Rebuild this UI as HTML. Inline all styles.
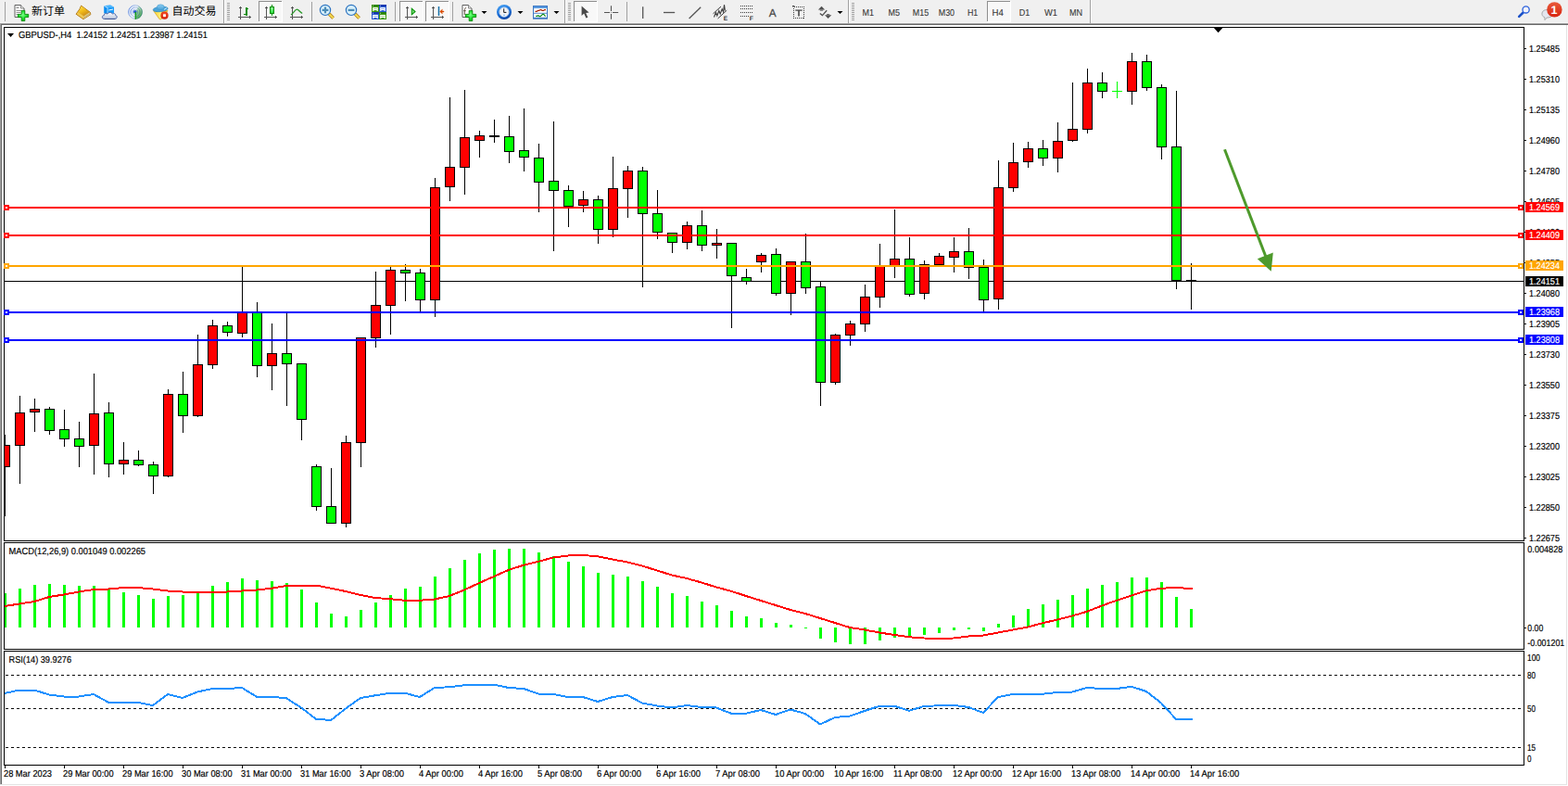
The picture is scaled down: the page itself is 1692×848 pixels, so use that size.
<!DOCTYPE html>
<html><head><meta charset="utf-8"><title>GBPUSD-,H4</title>
<style>html,body{margin:0;padding:0;background:#fff;overflow:hidden}svg{display:block}</style>
</head><body>
<svg width="1692" height="848" viewBox="0 0 1692 848" font-family="Liberation Sans, sans-serif" font-size="10" text-rendering="geometricPrecision">
<rect x="0" y="0" width="1692" height="848" fill="#ffffff"/>
<g shape-rendering="crispEdges">
<rect x="0" y="0" width="1692" height="25" fill="#f0f0f0"/>
<rect x="0" y="24" width="1692" height="1" fill="#f5f5f5"/>
<rect x="0" y="25" width="1692" height="1" fill="#a0a0a0"/>
<rect x="0" y="26" width="1692" height="1" fill="#696969"/>
<rect x="0" y="26" width="1" height="820" fill="#a0a0a0"/>
<rect x="1" y="26" width="1" height="820" fill="#696969"/>
<rect x="1690" y="27" width="1" height="820" fill="#e3e3e3"/>
<rect x="0" y="846" width="1691" height="1" fill="#e3e3e3"/>
<rect x="1691" y="27" width="1" height="821" fill="#ffffff"/>
<rect x="0" y="847" width="1692" height="1" fill="#ffffff"/>
</g>
<g shape-rendering="crispEdges">
<rect x="5" y="2" width="1" height="21" fill="#a0a0a0"/>
<rect x="241" y="0" width="1" height="25" fill="#a0a0a0"/><rect x="242" y="0" width="1" height="25" fill="#ffffff"/>
<rect x="245" y="3" width="3" height="1" fill="#a0a0a0"/>
<rect x="245" y="5" width="3" height="1" fill="#a0a0a0"/>
<rect x="245" y="7" width="3" height="1" fill="#a0a0a0"/>
<rect x="245" y="9" width="3" height="1" fill="#a0a0a0"/>
<rect x="245" y="11" width="3" height="1" fill="#a0a0a0"/>
<rect x="245" y="13" width="3" height="1" fill="#a0a0a0"/>
<rect x="245" y="15" width="3" height="1" fill="#a0a0a0"/>
<rect x="245" y="17" width="3" height="1" fill="#a0a0a0"/>
<rect x="245" y="19" width="3" height="1" fill="#a0a0a0"/>
<rect x="245" y="21" width="3" height="1" fill="#a0a0a0"/>
<rect x="279" y="1" width="26" height="23" fill="#f8f8f8"/>
<rect x="279" y="1" width="25" height="1" fill="#8e8e8e"/><rect x="279" y="1" width="1" height="22" fill="#8e8e8e"/>
<rect x="279" y="23" width="26" height="1" fill="#ffffff"/><rect x="304" y="1" width="1" height="23" fill="#ffffff"/>
<rect x="336" y="2" width="1" height="21" fill="#a0a0a0"/>
<rect x="426" y="2" width="1" height="21" fill="#a0a0a0"/>
<rect x="431" y="1" width="26" height="23" fill="#f8f8f8"/>
<rect x="431" y="1" width="25" height="1" fill="#8e8e8e"/><rect x="431" y="1" width="1" height="22" fill="#8e8e8e"/>
<rect x="431" y="23" width="26" height="1" fill="#ffffff"/><rect x="456" y="1" width="1" height="23" fill="#ffffff"/>
<rect x="459" y="1" width="26" height="23" fill="#f8f8f8"/>
<rect x="459" y="1" width="25" height="1" fill="#8e8e8e"/><rect x="459" y="1" width="1" height="22" fill="#8e8e8e"/>
<rect x="459" y="23" width="26" height="1" fill="#ffffff"/><rect x="484" y="1" width="1" height="23" fill="#ffffff"/>
<rect x="488" y="2" width="1" height="21" fill="#a0a0a0"/>
<rect x="609" y="0" width="1" height="25" fill="#a0a0a0"/><rect x="610" y="0" width="1" height="25" fill="#ffffff"/>
<rect x="613" y="3" width="3" height="1" fill="#a0a0a0"/>
<rect x="613" y="5" width="3" height="1" fill="#a0a0a0"/>
<rect x="613" y="7" width="3" height="1" fill="#a0a0a0"/>
<rect x="613" y="9" width="3" height="1" fill="#a0a0a0"/>
<rect x="613" y="11" width="3" height="1" fill="#a0a0a0"/>
<rect x="613" y="13" width="3" height="1" fill="#a0a0a0"/>
<rect x="613" y="15" width="3" height="1" fill="#a0a0a0"/>
<rect x="613" y="17" width="3" height="1" fill="#a0a0a0"/>
<rect x="613" y="19" width="3" height="1" fill="#a0a0a0"/>
<rect x="613" y="21" width="3" height="1" fill="#a0a0a0"/>
<rect x="619" y="1" width="26" height="23" fill="#f8f8f8"/>
<rect x="619" y="1" width="25" height="1" fill="#8e8e8e"/><rect x="619" y="1" width="1" height="22" fill="#8e8e8e"/>
<rect x="619" y="23" width="26" height="1" fill="#ffffff"/><rect x="644" y="1" width="1" height="23" fill="#ffffff"/>
<rect x="676" y="2" width="1" height="21" fill="#a0a0a0"/>
<rect x="915" y="0" width="1" height="25" fill="#a0a0a0"/><rect x="916" y="0" width="1" height="25" fill="#ffffff"/>
<rect x="919" y="3" width="3" height="1" fill="#a0a0a0"/>
<rect x="919" y="5" width="3" height="1" fill="#a0a0a0"/>
<rect x="919" y="7" width="3" height="1" fill="#a0a0a0"/>
<rect x="919" y="9" width="3" height="1" fill="#a0a0a0"/>
<rect x="919" y="11" width="3" height="1" fill="#a0a0a0"/>
<rect x="919" y="13" width="3" height="1" fill="#a0a0a0"/>
<rect x="919" y="15" width="3" height="1" fill="#a0a0a0"/>
<rect x="919" y="17" width="3" height="1" fill="#a0a0a0"/>
<rect x="919" y="19" width="3" height="1" fill="#a0a0a0"/>
<rect x="919" y="21" width="3" height="1" fill="#a0a0a0"/>
<rect x="1065" y="1" width="26" height="23" fill="#f8f8f8"/>
<rect x="1065" y="1" width="25" height="1" fill="#8e8e8e"/><rect x="1065" y="1" width="1" height="22" fill="#8e8e8e"/>
<rect x="1065" y="23" width="26" height="1" fill="#ffffff"/><rect x="1090" y="1" width="1" height="23" fill="#ffffff"/>
<rect x="1176" y="0" width="1" height="25" fill="#a0a0a0"/><rect x="1177" y="0" width="1" height="25" fill="#ffffff"/>
</g>
<defs><radialGradient id="gplus" cx="0.45" cy="0.4" r="0.7"><stop offset="0" stop-color="#7dff8a"/><stop offset="0.55" stop-color="#19e02a"/><stop offset="1" stop-color="#0aa010"/></radialGradient><linearGradient id="ggold" x1="0" y1="0" x2="0.6" y2="1"><stop offset="0" stop-color="#ffe45a"/><stop offset="0.5" stop-color="#f2bd1a"/><stop offset="1" stop-color="#c8871a"/></linearGradient><linearGradient id="gcloud" x1="0" y1="0" x2="0" y2="1"><stop offset="0" stop-color="#ffffff"/><stop offset="1" stop-color="#b8c4dc"/></linearGradient><linearGradient id="ghat" x1="0" y1="0" x2="0" y2="1"><stop offset="0" stop-color="#8ccdf2"/><stop offset="1" stop-color="#4aa2d8"/></linearGradient><linearGradient id="gface" x1="0" y1="0" x2="1" y2="0"><stop offset="0" stop-color="#f5cc30"/><stop offset="0.5" stop-color="#fff27a"/><stop offset="1" stop-color="#f0c020"/></linearGradient><radialGradient id="gred" cx="0.5" cy="0.35" r="0.7"><stop offset="0" stop-color="#ff5a30"/><stop offset="1" stop-color="#c81400"/></radialGradient><linearGradient id="gbadge" x1="0" y1="0" x2="0" y2="1"><stop offset="0" stop-color="#e85a3a"/><stop offset="1" stop-color="#d82410"/></linearGradient><radialGradient id="gsig" cx="0.5" cy="0.5" r="0.5"><stop offset="0" stop-color="#ffffff"/><stop offset="1" stop-color="#e4ecf6"/></radialGradient><linearGradient id="ghandle" x1="0" y1="0" x2="1" y2="0"><stop offset="0" stop-color="#c89018"/><stop offset="0.5" stop-color="#ffe870"/><stop offset="1" stop-color="#b07808"/></linearGradient><radialGradient id="gclock" cx="0.5" cy="0.5" r="0.5"><stop offset="0.6" stop-color="#1e82e6"/><stop offset="0.85" stop-color="#2a90f0"/><stop offset="1" stop-color="#0e50a8"/></radialGradient><linearGradient id="gcandle" x1="0" y1="0" x2="0" y2="1"><stop offset="0" stop-color="#90ff98"/><stop offset="1" stop-color="#28dc40"/></linearGradient><linearGradient id="gring" x1="0" y1="0" x2="1" y2="0.3"><stop offset="0" stop-color="#3c6cdc" stop-opacity="0.95"/><stop offset="0.5" stop-color="#7aa0e0" stop-opacity="0.5"/><stop offset="1" stop-color="#3a7a8a" stop-opacity="0.75"/></linearGradient><linearGradient id="gsec" x1="0.2" y1="0" x2="0.6" y2="1"><stop offset="0" stop-color="#c8e4c8" stop-opacity="0.7"/><stop offset="1" stop-color="#2ca02c" stop-opacity="0.95"/></linearGradient><linearGradient id="gclk2" x1="0.2" y1="0" x2="0.6" y2="1"><stop offset="0" stop-color="#44a0f4"/><stop offset="0.55" stop-color="#1a6cd4"/><stop offset="1" stop-color="#0a44a4"/></linearGradient></defs>
<g transform="translate(14.5,5)"><path d="M1.5,0.5 H8 L11.5,4 V13.5 H1.5 Z" fill="#fff" stroke="#606060" stroke-width="1"/><path d="M8,0.5 V4 H11.5" fill="#e8e8e8" stroke="#707070" stroke-width="0.8"/><rect x="3" y="2.5" width="3" height="1.4" fill="#909090"/><rect x="3" y="6" width="6" height="1" fill="#909090"/><rect x="3" y="8" width="5" height="1" fill="#909090"/><rect x="3" y="10" width="3" height="1" fill="#909090"/><path d="M8.7,6.4 H12.3 V10.4 H16.2 V13.6 H12.3 V17.6 H8.7 V13.6 H4.9 V10.4 H8.7 Z" fill="url(#gplus)" stroke="#0a8a0a" stroke-width="0.9"/></g>
<text x="33.9" y="16.2" font-size="12" fill="#000" font-family="'Liberation Sans', 'Noto Sans CJK SC', sans-serif">新订单</text>
<path d="M87.6,6.1 L97.3,13.3 L97.9,15.6 L89.9,20.7 L82.1,15.2 L85.9,9.9 Z" fill="#d8a428" stroke="#b07818" stroke-width="1" stroke-linejoin="round"/><path d="M87.8,6.6 L96.8,13.3 L90.4,17.6 L84.2,13 L86.2,10 Z" fill="url(#ggold)"/><path d="M82.6,15.1 L84.2,13 L90.4,17.6 L89.9,20.2 Z" fill="#f0c850"/><path d="M90.4,17.6 L96.8,13.3 L97.5,15.5 L90,20.2 Z" fill="#e8dca0"/><path d="M90.3,18.6 L97.1,14.2 M90.1,19.5 L97.4,14.9" stroke="#b89040" stroke-width="0.5" fill="none"/>
<path d="M112.2,6.2 L116,8.2 V14.5 H112.2 Z" fill="#0a8cf0"/><path d="M112.2,6.2 L119,5.2 L123,7.4 L116,8.2 Z" fill="#48b4ff"/><path d="M116,8.2 L123,7.4 V14.5 H116 Z" fill="#1e9cf8"/><path d="M112.4,6.4 L116,8.4 V14" fill="none" stroke="#e0f4ff" stroke-width="0.7"/><path d="M117.4,10.4 L122,9.6 V10.6 L117.4,11.4 Z" fill="#eaf8ff"/><path d="M112.6,20.4 C109.6,20.4 109.7,16.7 112.3,16.5 C112.2,14.5 114.8,13.9 116,15.1 C117,12.9 120.6,12.9 121.4,15.1 C123,14.1 125,14.7 124.8,16.7 C127,17.1 126.6,20.4 124,20.4 Z" fill="url(#gcloud)" stroke="#405aa0" stroke-width="0.9"/><path d="M112.6,20.5 H124" stroke="#3a508c" stroke-width="0.8"/>
<g fill="none"><circle cx="146" cy="13" r="7.6" fill="url(#gsig)"/><path d="M146,13 L149.8,6.4 A7.6,7.6 0 0 1 146,20.6 Z" fill="url(#gsec)"/><circle cx="146" cy="13" r="7.3" stroke="url(#gring)" stroke-width="1"/><circle cx="146" cy="13" r="5" stroke="url(#gring)" stroke-width="1"/><circle cx="146" cy="13" r="2.8" stroke="url(#gring)" stroke-width="0.8"/><circle cx="145.8" cy="12.8" r="1.8" fill="#2858d0"/><rect x="145.6" y="13" width="1.4" height="7.8" fill="#18a018"/></g>
<path d="M165.6,11.6 H181 L174,20.8 H172.2 Z" fill="url(#gface)" stroke="#d8a010" stroke-width="0.7"/><ellipse cx="173.2" cy="9.9" rx="8" ry="2.7" transform="rotate(-6 173.2 9.9)" fill="#4aa4da" stroke="#2a86c0" stroke-width="0.7"/><ellipse cx="173.3" cy="7.7" rx="3.9" ry="2.9" fill="url(#ghat)" stroke="#3a92c8" stroke-width="0.5"/><path d="M177,10.4 L180,8.6" stroke="#d8f0ff" stroke-width="0.9"/><circle cx="177.5" cy="16.7" r="4.1" fill="url(#gred)"/><rect x="176.1" y="15.3" width="2.8" height="2.8" fill="#fff"/>
<text x="185.5" y="16.2" font-size="12" fill="#000" font-family="'Liberation Sans', 'Noto Sans CJK SC', sans-serif">自动交易</text>
<g fill="#555555" shape-rendering="crispEdges"><rect x="259" y="7" width="1" height="14"/><rect x="258" y="8" width="3" height="1"/><rect x="257" y="18" width="14" height="1"/><rect x="269" y="17" width="1" height="3"/></g>
<g fill="#0a8c0a" shape-rendering="crispEdges"><rect x="265" y="8" width="1.6" height="9"/><rect x="265" y="9" width="3" height="1.4"/><rect x="263" y="15" width="3" height="1.4"/></g>
<g fill="#555555" shape-rendering="crispEdges"><rect x="287" y="7" width="1" height="14"/><rect x="286" y="8" width="3" height="1"/><rect x="285" y="18" width="14" height="1"/><rect x="297" y="17" width="1" height="3"/></g>
<g shape-rendering="crispEdges"><rect x="293" y="5" width="1" height="12" fill="#0a8c0a"/><rect x="291" y="7" width="5" height="8" fill="#0a8c0a"/><rect x="292" y="8" width="3" height="6" fill="url(#gcandle)"/></g>
<g fill="#555555" shape-rendering="crispEdges"><rect x="315" y="7" width="1" height="14"/><rect x="314" y="8" width="3" height="1"/><rect x="313" y="18" width="14" height="1"/><rect x="325" y="17" width="1" height="3"/></g>
<path d="M314,16 C316.5,14.5 318.5,10.2 320.4,10.2 C322.5,10.2 324,13.8 326.2,14.4" fill="none" stroke="#2a9a2a" stroke-width="1.3"/>
<g><line x1="355.2" y1="15.1" x2="359.6" y2="19.5" stroke="#a87410" stroke-width="3.6" stroke-linecap="butt"/><line x1="355.2" y1="15.1" x2="359.6" y2="19.5" stroke="#f2d850" stroke-width="2.2"/><circle cx="351" cy="10.9" r="5.6" fill="#d8f0fa" stroke="#2e74c0" stroke-width="1.2"/><rect x="347.6" y="9.8" width="6.8" height="2.2" fill="#4c8cb8"/><rect x="349.9" y="7.5" width="2.2" height="6.8" fill="#4c8cb8"/></g>
<g><line x1="383.2" y1="15.1" x2="387.6" y2="19.5" stroke="#a87410" stroke-width="3.6" stroke-linecap="butt"/><line x1="383.2" y1="15.1" x2="387.6" y2="19.5" stroke="#f2d850" stroke-width="2.2"/><circle cx="379" cy="10.9" r="5.6" fill="#d8f0fa" stroke="#2e74c0" stroke-width="1.2"/><rect x="375.6" y="9.8" width="6.8" height="2.2" fill="#4c8cb8"/></g>
<rect x="401" y="5" width="8" height="8" fill="#3f9a12"/><rect x="401" y="5" width="8" height="2" fill="#2c8408"/><rect x="402.2" y="8" width="5.6" height="4" fill="#fff"/><rect x="403.2" y="9" width="3.6" height="0.9" fill="#3f9a12" fill-opacity="0.55"/><rect x="403.4" y="11" width="3.2" height="1" fill="#3f9a12"/><rect x="402" y="5.8" width="1" height="0.8" fill="#fff" fill-opacity="0.8"/>
<rect x="409" y="5" width="8" height="8" fill="#2a5cd0"/><rect x="409" y="5" width="8" height="2" fill="#1838b0"/><rect x="410.2" y="8" width="5.6" height="4" fill="#fff"/><rect x="411.2" y="9" width="3.6" height="0.9" fill="#2a5cd0" fill-opacity="0.55"/><rect x="411.4" y="11" width="3.2" height="1" fill="#2a5cd0"/><rect x="410" y="5.8" width="1" height="0.8" fill="#fff" fill-opacity="0.8"/>
<rect x="401" y="13" width="8" height="8" fill="#2a5cd0"/><rect x="401" y="13" width="8" height="2" fill="#1838b0"/><rect x="402.2" y="16" width="5.6" height="4" fill="#fff"/><rect x="403.2" y="17" width="3.6" height="0.9" fill="#2a5cd0" fill-opacity="0.55"/><rect x="403.4" y="19" width="3.2" height="1" fill="#2a5cd0"/><rect x="402" y="13.8" width="1" height="0.8" fill="#fff" fill-opacity="0.8"/>
<rect x="409" y="13" width="8" height="8" fill="#3f9a12"/><rect x="409" y="13" width="8" height="2" fill="#2c8408"/><rect x="410.2" y="16" width="5.6" height="4" fill="#fff"/><rect x="411.2" y="17" width="3.6" height="0.9" fill="#3f9a12" fill-opacity="0.55"/><rect x="411.4" y="19" width="3.2" height="1" fill="#3f9a12"/><rect x="410" y="13.8" width="1" height="0.8" fill="#fff" fill-opacity="0.8"/>
<g fill="#555555" shape-rendering="crispEdges"><rect x="439" y="7" width="1" height="14"/><rect x="438" y="8" width="3" height="1"/><rect x="437" y="18" width="14" height="1"/><rect x="449" y="17" width="1" height="3"/></g>
<polygon points="444.3,9.3 444.3,15.7 448,12.5" fill="#7ee07e" stroke="#0a960a" stroke-width="1.1"/>
<g fill="#555555" shape-rendering="crispEdges"><rect x="467" y="7" width="1" height="14"/><rect x="466" y="8" width="3" height="1"/><rect x="465" y="18" width="14" height="1"/><rect x="477" y="17" width="1" height="3"/></g>
<line x1="473.5" y1="7" x2="473.5" y2="17" stroke="#1470a8" stroke-width="1.5"/><path d="M474.6,12.5 L477.4,10 L477,12 H479 V13 H477 L477.4,15 Z" fill="#d84a00" stroke="#d84a00" stroke-width="0.4"/>
<g transform="translate(497.5,5)"><path d="M1.5,0.5 H8 L11.5,4 V13.5 H1.5 Z" fill="#fff" stroke="#606060" stroke-width="1"/><path d="M8,0.5 V4 H11.5" fill="#e8e8e8" stroke="#707070" stroke-width="0.8"/><path d="M5.6,3.6 C4.2,3.2 3.8,5 3.8,7 V11 M2.8,6.6 H5.2" fill="none" stroke="#504030" stroke-width="0.9"/><path d="M8.7,6.4 H12.3 V10.4 H16.2 V13.6 H12.3 V17.6 H8.7 V13.6 H4.9 V10.4 H8.7 Z" fill="url(#gplus)" stroke="#0a8a0a" stroke-width="0.9"/></g>
<polygon points="519.5,12 525.5,12 522.5,15" fill="#000" shape-rendering="auto"/>
<circle cx="544" cy="13" r="8" fill="url(#gclk2)"/><circle cx="544" cy="13" r="5.3" fill="#f2f4f8" stroke="#9cc4f0" stroke-width="0.6"/><path d="M543.7,9.4 V13.4 H546.4" fill="none" stroke="#181818" stroke-width="1"/><rect x="543" y="15.8" width="2" height="0.8" fill="#5aa8f4"/><g fill="#8c8c8c"><rect x="543.6" y="8.3" width="0.7" height="0.7"/><rect x="548" y="12.7" width="0.7" height="0.7"/><rect x="539.3" y="12.7" width="0.7" height="0.7"/><rect x="540.6" y="9.8" width="0.6" height="0.6"/><rect x="546.8" y="9.8" width="0.6" height="0.6"/><rect x="540.6" y="15.8" width="0.6" height="0.6"/><rect x="546.8" y="15.8" width="0.6" height="0.6"/></g>
<polygon points="558.5,12 564.5,12 561.5,15" fill="#000" shape-rendering="auto"/>
<rect x="575.5" y="6.5" width="15" height="13.5" fill="#fff" stroke="#3c78c4" stroke-width="1"/><rect x="576" y="7" width="14" height="2" fill="#5a9ae0"/><rect x="576" y="13.8" width="14" height="0.9" fill="#3c78c4"/><rect x="575" y="18.8" width="16" height="1.6" fill="#3c78c4"/><path d="M577.5,12.4 H579 L580.5,11.4 H581.8 L583,10.6 H584 L585,11.4 H586.5 L587.6,10.6 H589" fill="none" stroke="#a82000" stroke-width="1.2"/><path d="M578.2,17.4 H579.6 L580.6,16.8 L582,17.6 H583.2 L585.6,15.4 H586.6 L588.6,17.6" fill="none" stroke="#0a8c1a" stroke-width="1.2"/>
<polygon points="597.5,12 603.5,12 600.5,15" fill="#000" shape-rendering="auto"/>
<path d="M627.6,6.4 V17 L630.2,14.6 L632.4,19.6 L634.4,18.7 L632.2,13.9 L635.6,13.6 Z" fill="#4a4a4a"/>
<g stroke="#555555" stroke-width="1.1"><path d="M659.5,6.3 V12 M659.5,15 V20.8 M652,13.5 H658 M661,13.5 H667.2"/></g><rect x="659" y="13" width="1" height="1" fill="#888"/>
<g stroke="#555555" stroke-width="1.3"><line x1="693.7" y1="7.2" x2="693.7" y2="20"/><line x1="716" y1="13.5" x2="728.2" y2="13.5"/><line x1="743.6" y1="20" x2="756.2" y2="7.8"/></g>
<g stroke="#3c3c3c" stroke-width="1" fill="none"><line x1="769.5" y1="14.8" x2="778" y2="7"/><line x1="774.6" y1="20" x2="784.2" y2="11.2"/><path d="M770.5,18.5 L772.5,13.5 L773.8,17 L775.8,11.5 L777.2,15 L779.2,9.8 L780.6,13 L781.5,5.2 L782.4,11.5" stroke-width="1.1"/></g>
<text x="780.8" y="21.8" font-size="6.5" font-weight="bold" fill="#303030" textLength="4.4" lengthAdjust="spacingAndGlyphs">E</text>
<g stroke="#404040" stroke-width="1.1" stroke-dasharray="1 1" shape-rendering="crispEdges"><line x1="799" y1="6.5" x2="812" y2="6.5"/><line x1="799" y1="9.5" x2="812" y2="9.5"/><line x1="799" y1="13.5" x2="812" y2="13.5"/><line x1="799" y1="17.5" x2="808" y2="17.5"/></g>
<text x="808.8" y="21.8" font-size="6.5" font-weight="bold" fill="#303030" textLength="4.2" lengthAdjust="spacingAndGlyphs">F</text>
<text x="829.8" y="17.8" font-size="11.8" fill="#484848" stroke="#484848" stroke-width="0.25">A</text>
<g stroke="#404040" stroke-width="1" stroke-dasharray="1 1" fill="none" shape-rendering="crispEdges"><rect x="856.5" y="7.5" width="11" height="12"/></g><rect x="855" y="6" width="2.4" height="1.4" fill="#404040"/>
<path d="M858.3,10.4 H865.7 V11.8 H862.8 V17.6 H861.2 V11.8 H858.3 Z" fill="#484848"/>
<g fill="#505050"><polygon points="886.5,6.8 890.2,10.6 882.9,10.6"/><rect x="884.8" y="10.6" width="3.4" height="1"/><polygon points="893.6,20 897.3,16.2 890,16.2"/><rect x="892" y="15.2" width="3.2" height="1"/><path d="M884.8,14.4 L887.4,16.6 L892.2,11.2" fill="none" stroke="#505050" stroke-width="1.3"/></g>
<polygon points="903.5,12 909.5,12 906.5,15" fill="#000" shape-rendering="auto"/>
<text x="930.6" y="17" font-size="10.17" fill="#383838" stroke="#383838" stroke-width="0.1" textLength="12.5" lengthAdjust="spacingAndGlyphs">M1</text>
<text x="958.5" y="17" font-size="10.17" fill="#383838" stroke="#383838" stroke-width="0.1" textLength="12.5" lengthAdjust="spacingAndGlyphs">M5</text>
<text x="984.8" y="17" font-size="10.17" fill="#383838" stroke="#383838" stroke-width="0.1" textLength="17.4" lengthAdjust="spacingAndGlyphs">M15</text>
<text x="1012.7" y="17" font-size="10.17" fill="#383838" stroke="#383838" stroke-width="0.1" textLength="17.4" lengthAdjust="spacingAndGlyphs">M30</text>
<text x="1043.9" y="17" font-size="10.17" fill="#383838" stroke="#383838" stroke-width="0.1" textLength="11.4" lengthAdjust="spacingAndGlyphs">H1</text>
<text x="1070.5" y="17" font-size="10.17" fill="#383838" stroke="#383838" stroke-width="0.1" textLength="12.3" lengthAdjust="spacingAndGlyphs">H4</text>
<text x="1099.7" y="17" font-size="10.17" fill="#383838" stroke="#383838" stroke-width="0.1" textLength="11.5" lengthAdjust="spacingAndGlyphs">D1</text>
<text x="1127.0" y="17" font-size="10.17" fill="#383838" stroke="#383838" stroke-width="0.1" textLength="14.0" lengthAdjust="spacingAndGlyphs">W1</text>
<text x="1154.0" y="17" font-size="10.17" fill="#383838" stroke="#383838" stroke-width="0.1" textLength="14.1" lengthAdjust="spacingAndGlyphs">MN</text>
<line x1="1643.4" y1="13.8" x2="1639.2" y2="17.9" stroke="#1a50c8" stroke-width="2.6" stroke-linecap="round"/><circle cx="1646.6" cy="10.4" r="3.6" fill="#f4f4fa" stroke="#2a60dc" stroke-width="1.3"/>
<path d="M1664,15.5 C1663.6,11.6 1667,10.4 1670,10.6 C1673.6,10.6 1675.4,12.6 1675.2,15.4 C1675,18.4 1672,19 1669.2,19 L1667,21.6 L1666.8,18.6 C1665,18 1664.2,17 1664,15.5 Z" fill="#e4e6ee" stroke="#a0a0a0" stroke-width="0.9"/>
<circle cx="1677.4" cy="10.4" r="8.2" fill="url(#gbadge)"/><text x="1677" y="15.1" font-size="12.5" font-weight="bold" fill="#fff" text-anchor="middle" font-family="'Liberation Sans', sans-serif">1</text>
<g shape-rendering="crispEdges">
<rect x="4" y="29" width="1641" height="1" fill="#000"/>
<rect x="4" y="583" width="1641" height="1" fill="#000"/>
<rect x="4" y="29" width="1" height="555" fill="#000"/>
<rect x="1644" y="29" width="1" height="555" fill="#000"/>
<rect x="4" y="585" width="1641" height="1" fill="#000"/>
<rect x="4" y="700" width="1641" height="1" fill="#000"/>
<rect x="4" y="585" width="1" height="116" fill="#000"/>
<rect x="1644" y="585" width="1" height="116" fill="#000"/>
<rect x="4" y="702" width="1641" height="1" fill="#000"/>
<rect x="4" y="825" width="1641" height="1" fill="#000"/>
<rect x="4" y="702" width="1" height="124" fill="#000"/>
<rect x="1644" y="702" width="1" height="124" fill="#000"/>
<polygon points="1309.8,30 1319.4,30 1314.6,35.2" fill="#000" shape-rendering="auto"/>
<polygon points="8,36 15,36 11.5,40" fill="#000" shape-rendering="auto"/>
<rect x="5" y="303" width="1639" height="1" fill="#000"/>
<rect x="5" y="469" width="1" height="88" fill="#000"/>
<rect x="5" y="480" width="6" height="24" fill="#000"/>
<rect x="5" y="481" width="5" height="22" fill="#ff0000"/>
<rect x="21" y="427" width="1" height="95" fill="#000"/>
<rect x="16" y="445" width="11" height="36" fill="#000"/>
<rect x="17" y="446" width="9" height="34" fill="#ff0000"/>
<rect x="37" y="430" width="1" height="36" fill="#000"/>
<rect x="32" y="441" width="11" height="4" fill="#000"/>
<rect x="33" y="442" width="9" height="2" fill="#ff0000"/>
<rect x="53" y="439" width="1" height="30" fill="#000"/>
<rect x="48" y="441" width="11" height="24" fill="#000"/>
<rect x="49" y="442" width="9" height="22" fill="#00ff00"/>
<rect x="69" y="442" width="1" height="40" fill="#000"/>
<rect x="64" y="463" width="11" height="11" fill="#000"/>
<rect x="65" y="464" width="9" height="9" fill="#00ff00"/>
<rect x="85" y="455" width="1" height="49" fill="#000"/>
<rect x="80" y="473" width="11" height="9" fill="#000"/>
<rect x="81" y="474" width="9" height="7" fill="#00ff00"/>
<rect x="101" y="403" width="1" height="109" fill="#000"/>
<rect x="96" y="446" width="11" height="35" fill="#000"/>
<rect x="97" y="447" width="9" height="33" fill="#ff0000"/>
<rect x="117" y="434" width="1" height="81" fill="#000"/>
<rect x="112" y="445" width="11" height="56" fill="#000"/>
<rect x="113" y="446" width="9" height="54" fill="#00ff00"/>
<rect x="133" y="477" width="1" height="35" fill="#000"/>
<rect x="128" y="496" width="11" height="5" fill="#000"/>
<rect x="129" y="497" width="9" height="3" fill="#ff0000"/>
<rect x="149" y="486" width="1" height="17" fill="#000"/>
<rect x="144" y="496" width="11" height="6" fill="#000"/>
<rect x="145" y="497" width="9" height="4" fill="#00ff00"/>
<rect x="165" y="498" width="1" height="35" fill="#000"/>
<rect x="160" y="501" width="11" height="13" fill="#000"/>
<rect x="161" y="502" width="9" height="11" fill="#00ff00"/>
<rect x="181" y="420" width="1" height="95" fill="#000"/>
<rect x="176" y="425" width="11" height="89" fill="#000"/>
<rect x="177" y="426" width="9" height="87" fill="#ff0000"/>
<rect x="197" y="401" width="1" height="66" fill="#000"/>
<rect x="192" y="425" width="11" height="24" fill="#000"/>
<rect x="193" y="426" width="9" height="22" fill="#00ff00"/>
<rect x="213" y="361" width="1" height="89" fill="#000"/>
<rect x="208" y="393" width="11" height="56" fill="#000"/>
<rect x="209" y="394" width="9" height="54" fill="#ff0000"/>
<rect x="229" y="345" width="1" height="53" fill="#000"/>
<rect x="224" y="351" width="11" height="43" fill="#000"/>
<rect x="225" y="352" width="9" height="41" fill="#ff0000"/>
<rect x="245" y="347" width="1" height="16" fill="#000"/>
<rect x="240" y="351" width="11" height="8" fill="#000"/>
<rect x="241" y="352" width="9" height="6" fill="#00ff00"/>
<rect x="261" y="287" width="1" height="77" fill="#000"/>
<rect x="256" y="337" width="11" height="23" fill="#000"/>
<rect x="257" y="338" width="9" height="21" fill="#ff0000"/>
<rect x="277" y="326" width="1" height="81" fill="#000"/>
<rect x="272" y="337" width="11" height="58" fill="#000"/>
<rect x="273" y="338" width="9" height="56" fill="#00ff00"/>
<rect x="293" y="349" width="1" height="72" fill="#000"/>
<rect x="288" y="381" width="11" height="14" fill="#000"/>
<rect x="289" y="382" width="9" height="12" fill="#ff0000"/>
<rect x="309" y="337" width="1" height="101" fill="#000"/>
<rect x="304" y="381" width="11" height="12" fill="#000"/>
<rect x="305" y="382" width="9" height="10" fill="#00ff00"/>
<rect x="325" y="392" width="1" height="83" fill="#000"/>
<rect x="320" y="392" width="11" height="61" fill="#000"/>
<rect x="321" y="393" width="9" height="59" fill="#00ff00"/>
<rect x="341" y="501" width="1" height="50" fill="#000"/>
<rect x="336" y="503" width="11" height="44" fill="#000"/>
<rect x="337" y="504" width="9" height="42" fill="#00ff00"/>
<rect x="357" y="505" width="1" height="60" fill="#000"/>
<rect x="352" y="546" width="11" height="19" fill="#000"/>
<rect x="353" y="547" width="9" height="17" fill="#00ff00"/>
<rect x="373" y="470" width="1" height="99" fill="#000"/>
<rect x="368" y="477" width="11" height="88" fill="#000"/>
<rect x="369" y="478" width="9" height="86" fill="#ff0000"/>
<rect x="389" y="364" width="1" height="140" fill="#000"/>
<rect x="384" y="364" width="11" height="114" fill="#000"/>
<rect x="385" y="365" width="9" height="112" fill="#ff0000"/>
<rect x="405" y="293" width="1" height="82" fill="#000"/>
<rect x="400" y="329" width="11" height="36" fill="#000"/>
<rect x="401" y="330" width="9" height="34" fill="#ff0000"/>
<rect x="421" y="288" width="1" height="73" fill="#000"/>
<rect x="416" y="291" width="11" height="39" fill="#000"/>
<rect x="417" y="292" width="9" height="37" fill="#ff0000"/>
<rect x="437" y="285" width="1" height="40" fill="#000"/>
<rect x="432" y="291" width="11" height="4" fill="#000"/>
<rect x="433" y="292" width="9" height="2" fill="#00ff00"/>
<rect x="453" y="290" width="1" height="46" fill="#000"/>
<rect x="448" y="294" width="11" height="30" fill="#000"/>
<rect x="449" y="295" width="9" height="28" fill="#00ff00"/>
<rect x="469" y="192" width="1" height="150" fill="#000"/>
<rect x="464" y="202" width="11" height="122" fill="#000"/>
<rect x="465" y="203" width="9" height="120" fill="#ff0000"/>
<rect x="485" y="105" width="1" height="112" fill="#000"/>
<rect x="480" y="180" width="11" height="22" fill="#000"/>
<rect x="481" y="181" width="9" height="20" fill="#ff0000"/>
<rect x="501" y="97" width="1" height="113" fill="#000"/>
<rect x="496" y="148" width="11" height="33" fill="#000"/>
<rect x="497" y="149" width="9" height="31" fill="#ff0000"/>
<rect x="517" y="141" width="1" height="29" fill="#000"/>
<rect x="512" y="146" width="11" height="6" fill="#000"/>
<rect x="513" y="147" width="9" height="4" fill="#ff0000"/>
<rect x="533" y="129" width="1" height="25" fill="#000"/>
<rect x="528" y="146" width="11" height="2" fill="#000"/>
<rect x="549" y="125" width="1" height="51" fill="#000"/>
<rect x="544" y="147" width="11" height="17" fill="#000"/>
<rect x="545" y="148" width="9" height="15" fill="#00ff00"/>
<rect x="565" y="117" width="1" height="68" fill="#000"/>
<rect x="560" y="162" width="11" height="8" fill="#000"/>
<rect x="561" y="163" width="9" height="6" fill="#00ff00"/>
<rect x="581" y="155" width="1" height="74" fill="#000"/>
<rect x="576" y="170" width="11" height="27" fill="#000"/>
<rect x="577" y="171" width="9" height="25" fill="#00ff00"/>
<rect x="597" y="131" width="1" height="140" fill="#000"/>
<rect x="592" y="195" width="11" height="11" fill="#000"/>
<rect x="593" y="196" width="9" height="9" fill="#00ff00"/>
<rect x="613" y="200" width="1" height="45" fill="#000"/>
<rect x="608" y="205" width="11" height="18" fill="#000"/>
<rect x="609" y="206" width="9" height="16" fill="#00ff00"/>
<rect x="629" y="206" width="1" height="23" fill="#000"/>
<rect x="624" y="215" width="11" height="7" fill="#000"/>
<rect x="625" y="216" width="9" height="5" fill="#ff0000"/>
<rect x="645" y="211" width="1" height="52" fill="#000"/>
<rect x="640" y="215" width="11" height="33" fill="#000"/>
<rect x="641" y="216" width="9" height="31" fill="#00ff00"/>
<rect x="661" y="169" width="1" height="87" fill="#000"/>
<rect x="656" y="203" width="11" height="45" fill="#000"/>
<rect x="657" y="204" width="9" height="43" fill="#ff0000"/>
<rect x="677" y="179" width="1" height="56" fill="#000"/>
<rect x="672" y="184" width="11" height="20" fill="#000"/>
<rect x="673" y="185" width="9" height="18" fill="#ff0000"/>
<rect x="693" y="180" width="1" height="130" fill="#000"/>
<rect x="688" y="184" width="11" height="47" fill="#000"/>
<rect x="689" y="185" width="9" height="45" fill="#00ff00"/>
<rect x="709" y="205" width="1" height="53" fill="#000"/>
<rect x="704" y="230" width="11" height="21" fill="#000"/>
<rect x="705" y="231" width="9" height="19" fill="#00ff00"/>
<rect x="725" y="251" width="1" height="22" fill="#000"/>
<rect x="720" y="251" width="11" height="11" fill="#000"/>
<rect x="721" y="252" width="9" height="9" fill="#00ff00"/>
<rect x="741" y="239" width="1" height="30" fill="#000"/>
<rect x="736" y="243" width="11" height="19" fill="#000"/>
<rect x="737" y="244" width="9" height="17" fill="#ff0000"/>
<rect x="757" y="227" width="1" height="44" fill="#000"/>
<rect x="752" y="243" width="11" height="22" fill="#000"/>
<rect x="753" y="244" width="9" height="20" fill="#00ff00"/>
<rect x="773" y="247" width="1" height="32" fill="#000"/>
<rect x="768" y="262" width="11" height="3" fill="#000"/>
<rect x="769" y="263" width="9" height="1" fill="#ff0000"/>
<rect x="789" y="262" width="1" height="92" fill="#000"/>
<rect x="784" y="262" width="11" height="36" fill="#000"/>
<rect x="785" y="263" width="9" height="34" fill="#00ff00"/>
<rect x="805" y="290" width="1" height="17" fill="#000"/>
<rect x="800" y="299" width="11" height="5" fill="#000"/>
<rect x="801" y="300" width="9" height="3" fill="#00ff00"/>
<rect x="821" y="273" width="1" height="21" fill="#000"/>
<rect x="816" y="275" width="11" height="8" fill="#000"/>
<rect x="817" y="276" width="9" height="6" fill="#ff0000"/>
<rect x="837" y="268" width="1" height="51" fill="#000"/>
<rect x="832" y="274" width="11" height="43" fill="#000"/>
<rect x="833" y="275" width="9" height="41" fill="#00ff00"/>
<rect x="853" y="282" width="1" height="58" fill="#000"/>
<rect x="848" y="282" width="11" height="35" fill="#000"/>
<rect x="849" y="283" width="9" height="33" fill="#ff0000"/>
<rect x="869" y="252" width="1" height="65" fill="#000"/>
<rect x="864" y="282" width="11" height="29" fill="#000"/>
<rect x="865" y="283" width="9" height="27" fill="#00ff00"/>
<rect x="885" y="304" width="1" height="134" fill="#000"/>
<rect x="880" y="309" width="11" height="104" fill="#000"/>
<rect x="881" y="310" width="9" height="102" fill="#00ff00"/>
<rect x="901" y="360" width="1" height="55" fill="#000"/>
<rect x="896" y="361" width="11" height="52" fill="#000"/>
<rect x="897" y="362" width="9" height="50" fill="#ff0000"/>
<rect x="917" y="346" width="1" height="27" fill="#000"/>
<rect x="912" y="349" width="11" height="13" fill="#000"/>
<rect x="913" y="350" width="9" height="11" fill="#ff0000"/>
<rect x="933" y="307" width="1" height="51" fill="#000"/>
<rect x="928" y="320" width="11" height="30" fill="#000"/>
<rect x="929" y="321" width="9" height="28" fill="#ff0000"/>
<rect x="949" y="263" width="1" height="69" fill="#000"/>
<rect x="944" y="286" width="11" height="35" fill="#000"/>
<rect x="945" y="287" width="9" height="33" fill="#ff0000"/>
<rect x="965" y="226" width="1" height="74" fill="#000"/>
<rect x="960" y="279" width="11" height="8" fill="#000"/>
<rect x="961" y="280" width="9" height="6" fill="#ff0000"/>
<rect x="981" y="256" width="1" height="64" fill="#000"/>
<rect x="976" y="279" width="11" height="39" fill="#000"/>
<rect x="977" y="280" width="9" height="37" fill="#00ff00"/>
<rect x="997" y="281" width="1" height="42" fill="#000"/>
<rect x="992" y="285" width="11" height="32" fill="#000"/>
<rect x="993" y="286" width="9" height="30" fill="#ff0000"/>
<rect x="1013" y="273" width="1" height="13" fill="#000"/>
<rect x="1008" y="276" width="11" height="10" fill="#000"/>
<rect x="1009" y="277" width="9" height="8" fill="#ff0000"/>
<rect x="1029" y="256" width="1" height="38" fill="#000"/>
<rect x="1024" y="271" width="11" height="7" fill="#000"/>
<rect x="1025" y="272" width="9" height="5" fill="#ff0000"/>
<rect x="1045" y="246" width="1" height="55" fill="#000"/>
<rect x="1040" y="271" width="11" height="18" fill="#000"/>
<rect x="1041" y="272" width="9" height="16" fill="#00ff00"/>
<rect x="1061" y="280" width="1" height="56" fill="#000"/>
<rect x="1056" y="288" width="11" height="36" fill="#000"/>
<rect x="1057" y="289" width="9" height="34" fill="#00ff00"/>
<rect x="1077" y="173" width="1" height="161" fill="#000"/>
<rect x="1072" y="202" width="11" height="121" fill="#000"/>
<rect x="1073" y="203" width="9" height="119" fill="#ff0000"/>
<rect x="1093" y="154" width="1" height="53" fill="#000"/>
<rect x="1088" y="175" width="11" height="28" fill="#000"/>
<rect x="1089" y="176" width="9" height="26" fill="#ff0000"/>
<rect x="1109" y="153" width="1" height="28" fill="#000"/>
<rect x="1104" y="160" width="11" height="15" fill="#000"/>
<rect x="1105" y="161" width="9" height="13" fill="#ff0000"/>
<rect x="1125" y="151" width="1" height="28" fill="#000"/>
<rect x="1120" y="160" width="11" height="11" fill="#000"/>
<rect x="1121" y="161" width="9" height="9" fill="#00ff00"/>
<rect x="1141" y="132" width="1" height="54" fill="#000"/>
<rect x="1136" y="152" width="11" height="19" fill="#000"/>
<rect x="1137" y="153" width="9" height="17" fill="#ff0000"/>
<rect x="1157" y="89" width="1" height="64" fill="#000"/>
<rect x="1152" y="139" width="11" height="13" fill="#000"/>
<rect x="1153" y="140" width="9" height="11" fill="#ff0000"/>
<rect x="1173" y="74" width="1" height="70" fill="#000"/>
<rect x="1168" y="89" width="11" height="51" fill="#000"/>
<rect x="1169" y="90" width="9" height="49" fill="#ff0000"/>
<rect x="1189" y="78" width="1" height="28" fill="#000"/>
<rect x="1184" y="89" width="11" height="10" fill="#000"/>
<rect x="1185" y="90" width="9" height="8" fill="#00ff00"/>
<rect x="1205" y="88" width="1" height="18" fill="#00ff00"/>
<rect x="1200" y="98" width="11" height="1" fill="#00ff00"/>
<rect x="1221" y="57" width="1" height="56" fill="#000"/>
<rect x="1216" y="66" width="11" height="33" fill="#000"/>
<rect x="1217" y="67" width="9" height="31" fill="#ff0000"/>
<rect x="1237" y="59" width="1" height="39" fill="#000"/>
<rect x="1232" y="66" width="11" height="29" fill="#000"/>
<rect x="1233" y="67" width="9" height="27" fill="#00ff00"/>
<rect x="1253" y="91" width="1" height="81" fill="#000"/>
<rect x="1248" y="94" width="11" height="65" fill="#000"/>
<rect x="1249" y="95" width="9" height="63" fill="#00ff00"/>
<rect x="1269" y="98" width="1" height="214" fill="#000"/>
<rect x="1264" y="158" width="11" height="145" fill="#000"/>
<rect x="1265" y="159" width="9" height="143" fill="#00ff00"/>
<rect x="1285" y="284" width="1" height="50" fill="#000"/>
<rect x="1280" y="302" width="11" height="2" fill="#000"/>
<rect x="5" y="223" width="1639" height="2" fill="#ff0000"/>
<rect x="4" y="221" width="6" height="6" fill="#ff0000"/>
<rect x="6" y="223" width="2" height="2" fill="#fff"/>
<rect x="1638" y="221" width="6" height="6" fill="#ff0000"/>
<rect x="1640" y="223" width="2" height="2" fill="#fff"/>
<rect x="5" y="253" width="1639" height="2" fill="#ff0000"/>
<rect x="4" y="251" width="6" height="6" fill="#ff0000"/>
<rect x="6" y="253" width="2" height="2" fill="#fff"/>
<rect x="1638" y="251" width="6" height="6" fill="#ff0000"/>
<rect x="1640" y="253" width="2" height="2" fill="#fff"/>
<rect x="5" y="286" width="1639" height="2" fill="#ffa500"/>
<rect x="4" y="284" width="6" height="6" fill="#ffa500"/>
<rect x="6" y="286" width="2" height="2" fill="#fff"/>
<rect x="1638" y="284" width="6" height="6" fill="#ffa500"/>
<rect x="1640" y="286" width="2" height="2" fill="#fff"/>
<rect x="5" y="336" width="1639" height="2" fill="#0000ff"/>
<rect x="4" y="334" width="6" height="6" fill="#0000ff"/>
<rect x="6" y="336" width="2" height="2" fill="#fff"/>
<rect x="1638" y="334" width="6" height="6" fill="#0000ff"/>
<rect x="1640" y="336" width="2" height="2" fill="#fff"/>
<rect x="5" y="366" width="1639" height="2" fill="#0000ff"/>
<rect x="4" y="364" width="6" height="6" fill="#0000ff"/>
<rect x="6" y="366" width="2" height="2" fill="#fff"/>
<rect x="1638" y="364" width="6" height="6" fill="#0000ff"/>
<rect x="1640" y="366" width="2" height="2" fill="#fff"/>
<rect x="5" y="640" width="2" height="37" fill="#00ff00"/>
<rect x="20" y="635" width="3" height="42" fill="#00ff00"/>
<rect x="36" y="631" width="3" height="46" fill="#00ff00"/>
<rect x="52" y="630" width="3" height="47" fill="#00ff00"/>
<rect x="68" y="631" width="3" height="46" fill="#00ff00"/>
<rect x="84" y="632" width="3" height="45" fill="#00ff00"/>
<rect x="100" y="632" width="3" height="45" fill="#00ff00"/>
<rect x="116" y="636" width="3" height="41" fill="#00ff00"/>
<rect x="132" y="639" width="3" height="38" fill="#00ff00"/>
<rect x="148" y="642" width="3" height="35" fill="#00ff00"/>
<rect x="164" y="646" width="3" height="31" fill="#00ff00"/>
<rect x="180" y="643" width="3" height="34" fill="#00ff00"/>
<rect x="196" y="642" width="3" height="35" fill="#00ff00"/>
<rect x="212" y="640" width="3" height="37" fill="#00ff00"/>
<rect x="228" y="632" width="3" height="45" fill="#00ff00"/>
<rect x="244" y="628" width="3" height="49" fill="#00ff00"/>
<rect x="260" y="624" width="3" height="53" fill="#00ff00"/>
<rect x="276" y="626" width="3" height="51" fill="#00ff00"/>
<rect x="292" y="627" width="3" height="50" fill="#00ff00"/>
<rect x="308" y="629" width="3" height="48" fill="#00ff00"/>
<rect x="324" y="636" width="3" height="41" fill="#00ff00"/>
<rect x="340" y="650" width="3" height="27" fill="#00ff00"/>
<rect x="356" y="662" width="3" height="15" fill="#00ff00"/>
<rect x="372" y="665" width="3" height="12" fill="#00ff00"/>
<rect x="388" y="658" width="3" height="19" fill="#00ff00"/>
<rect x="404" y="650" width="3" height="27" fill="#00ff00"/>
<rect x="420" y="642" width="3" height="35" fill="#00ff00"/>
<rect x="436" y="635" width="3" height="42" fill="#00ff00"/>
<rect x="452" y="633" width="3" height="44" fill="#00ff00"/>
<rect x="468" y="622" width="3" height="55" fill="#00ff00"/>
<rect x="484" y="613" width="3" height="64" fill="#00ff00"/>
<rect x="500" y="604" width="3" height="73" fill="#00ff00"/>
<rect x="516" y="597" width="3" height="80" fill="#00ff00"/>
<rect x="532" y="593" width="3" height="84" fill="#00ff00"/>
<rect x="548" y="592" width="3" height="85" fill="#00ff00"/>
<rect x="564" y="592" width="3" height="85" fill="#00ff00"/>
<rect x="580" y="596" width="3" height="81" fill="#00ff00"/>
<rect x="596" y="600" width="3" height="77" fill="#00ff00"/>
<rect x="612" y="606" width="3" height="71" fill="#00ff00"/>
<rect x="628" y="611" width="3" height="66" fill="#00ff00"/>
<rect x="644" y="618" width="3" height="59" fill="#00ff00"/>
<rect x="660" y="620" width="3" height="57" fill="#00ff00"/>
<rect x="676" y="622" width="3" height="55" fill="#00ff00"/>
<rect x="692" y="627" width="3" height="50" fill="#00ff00"/>
<rect x="708" y="633" width="3" height="44" fill="#00ff00"/>
<rect x="724" y="640" width="3" height="37" fill="#00ff00"/>
<rect x="740" y="643" width="3" height="34" fill="#00ff00"/>
<rect x="756" y="649" width="3" height="28" fill="#00ff00"/>
<rect x="772" y="653" width="3" height="24" fill="#00ff00"/>
<rect x="788" y="659" width="3" height="18" fill="#00ff00"/>
<rect x="804" y="665" width="3" height="12" fill="#00ff00"/>
<rect x="820" y="667" width="3" height="10" fill="#00ff00"/>
<rect x="836" y="672" width="3" height="5" fill="#00ff00"/>
<rect x="852" y="674" width="3" height="3" fill="#00ff00"/>
<rect x="868" y="677" width="3" height="1" fill="#00ff00"/>
<rect x="884" y="677" width="3" height="12" fill="#00ff00"/>
<rect x="900" y="677" width="3" height="16" fill="#00ff00"/>
<rect x="916" y="677" width="3" height="18" fill="#00ff00"/>
<rect x="932" y="677" width="3" height="18" fill="#00ff00"/>
<rect x="948" y="677" width="3" height="14" fill="#00ff00"/>
<rect x="964" y="677" width="3" height="11" fill="#00ff00"/>
<rect x="980" y="677" width="3" height="10" fill="#00ff00"/>
<rect x="996" y="677" width="3" height="8" fill="#00ff00"/>
<rect x="1012" y="677" width="3" height="6" fill="#00ff00"/>
<rect x="1028" y="677" width="3" height="3" fill="#00ff00"/>
<rect x="1044" y="677" width="3" height="2" fill="#00ff00"/>
<rect x="1060" y="677" width="3" height="4" fill="#00ff00"/>
<rect x="1076" y="673" width="3" height="4" fill="#00ff00"/>
<rect x="1092" y="664" width="3" height="13" fill="#00ff00"/>
<rect x="1108" y="657" width="3" height="20" fill="#00ff00"/>
<rect x="1124" y="652" width="3" height="25" fill="#00ff00"/>
<rect x="1140" y="647" width="3" height="30" fill="#00ff00"/>
<rect x="1156" y="642" width="3" height="35" fill="#00ff00"/>
<rect x="1172" y="635" width="3" height="42" fill="#00ff00"/>
<rect x="1188" y="631" width="3" height="46" fill="#00ff00"/>
<rect x="1204" y="628" width="3" height="49" fill="#00ff00"/>
<rect x="1220" y="623" width="3" height="54" fill="#00ff00"/>
<rect x="1236" y="623" width="3" height="54" fill="#00ff00"/>
<rect x="1252" y="628" width="3" height="49" fill="#00ff00"/>
<rect x="1268" y="644" width="3" height="33" fill="#00ff00"/>
<rect x="1284" y="657" width="3" height="20" fill="#00ff00"/>
</g>
<polyline points="5,654 21,651.5 37,649 53,644 69,641.5 85,638.5 101,636 117,635.5 133,634 149,634 165,635.5 181,637.5 197,638.5 213,638.5 229,638.5 245,638.5 261,637.5 277,636.5 293,634.75 309,632 325,631.5 341,631.5 357,634.75 373,638 389,642 405,645 421,646.25 437,647.75 453,647.75 469,646.5 485,643 501,636.5 517,629 533,622 549,614.75 565,609.75 581,605.75 597,601.5 613,599.5 629,599 645,600.25 661,603.5 677,606.5 693,610.5 709,615.5 725,620.5 741,624 757,628.5 773,633.5 789,637.75 805,643 821,648 837,653 853,658 869,662 885,667 901,672 917,677 933,679.5 949,682.5 965,685 981,687.25 997,688.5 1013,688.75 1029,688.5 1045,686.5 1061,685.5 1077,682.5 1093,679.5 1109,676.5 1125,672.25 1141,668.5 1157,664.5 1173,659.75 1189,653.5 1205,647.75 1221,642.5 1237,637.25 1253,634.75 1269,634 1285,635 1286.5,635" fill="none" stroke="#ff0000" stroke-width="2" stroke-linejoin="round" shape-rendering="crispEdges"/>
<g shape-rendering="crispEdges">
<line x1="6" y1="728.5" x2="1644" y2="728.5" stroke="#000" stroke-width="1" stroke-dasharray="3 3"/>
<line x1="6" y1="764.5" x2="1644" y2="764.5" stroke="#000" stroke-width="1" stroke-dasharray="3 3"/>
<line x1="6" y1="806.5" x2="1644" y2="806.5" stroke="#000" stroke-width="1" stroke-dasharray="3 3"/>
</g>
<polyline points="5,748 21,744.5 37,744.5 53,749.5 69,751.5 85,751.5 101,749 117,757.75 133,757.75 149,758 165,761 181,749 197,753 213,746.5 229,743 245,743 261,742 277,751.75 293,751.75 309,753.25 325,763.5 341,775.75 357,777 373,764.5 389,753 405,750.25 421,747.75 437,747.75 453,752 469,742 485,741.25 501,739.25 517,738.75 533,738.75 549,742 565,743 581,748.5 597,749 613,752 629,752 645,757 661,752 677,750 693,758.5 709,761.5 725,763.5 741,761 757,763 773,763.5 789,769.75 805,769.75 821,766 837,771 853,765.5 869,770 885,781.5 901,774 917,772.5 933,767 949,761.75 965,761.75 981,766.75 997,762 1013,761.25 1029,760.75 1045,763 1061,769 1077,752 1093,749 1109,748.75 1125,748.75 1141,747 1157,746.5 1173,742 1189,743 1205,743 1221,740.75 1237,746 1253,758.5 1269,775.9 1285,775.9 1286.5,775.9" fill="none" stroke="#1e90ff" stroke-width="2" stroke-linejoin="round" shape-rendering="crispEdges"/>
<line x1="1321.5" y1="161.2" x2="1366.7" y2="279" stroke="#4e9a2c" stroke-width="3"/>
<polygon points="1371.7,292.8 1356.8,279.3 1373.8,272.6" fill="#4e9a2c"/>
<g shape-rendering="crispEdges">
<rect x="1645" y="52" width="2" height="1" fill="#000"/>
<rect x="1645" y="85" width="2" height="1" fill="#000"/>
<rect x="1645" y="118" width="2" height="1" fill="#000"/>
<rect x="1645" y="151" width="2" height="1" fill="#000"/>
<rect x="1645" y="184" width="2" height="1" fill="#000"/>
<rect x="1645" y="217" width="2" height="1" fill="#000"/>
<rect x="1645" y="250" width="2" height="1" fill="#000"/>
<rect x="1645" y="283" width="2" height="1" fill="#000"/>
<rect x="1645" y="316" width="2" height="1" fill="#000"/>
<rect x="1645" y="349" width="2" height="1" fill="#000"/>
<rect x="1645" y="382" width="2" height="1" fill="#000"/>
<rect x="1645" y="415" width="2" height="1" fill="#000"/>
<rect x="1645" y="448" width="2" height="1" fill="#000"/>
<rect x="1645" y="481" width="2" height="1" fill="#000"/>
<rect x="1645" y="514" width="2" height="1" fill="#000"/>
<rect x="1645" y="547" width="2" height="1" fill="#000"/>
<rect x="1645" y="580" width="2" height="1" fill="#000"/>
<rect x="1645" y="677" width="2" height="1" fill="#000"/>
<rect x="5" y="826" width="1" height="3" fill="#000"/>
<rect x="69" y="826" width="1" height="3" fill="#000"/>
<rect x="133" y="826" width="1" height="3" fill="#000"/>
<rect x="197" y="826" width="1" height="3" fill="#000"/>
<rect x="261" y="826" width="1" height="3" fill="#000"/>
<rect x="325" y="826" width="1" height="3" fill="#000"/>
<rect x="389" y="826" width="1" height="3" fill="#000"/>
<rect x="453" y="826" width="1" height="3" fill="#000"/>
<rect x="517" y="826" width="1" height="3" fill="#000"/>
<rect x="581" y="826" width="1" height="3" fill="#000"/>
<rect x="645" y="826" width="1" height="3" fill="#000"/>
<rect x="709" y="826" width="1" height="3" fill="#000"/>
<rect x="773" y="826" width="1" height="3" fill="#000"/>
<rect x="837" y="826" width="1" height="3" fill="#000"/>
<rect x="901" y="826" width="1" height="3" fill="#000"/>
<rect x="965" y="826" width="1" height="3" fill="#000"/>
<rect x="1029" y="826" width="1" height="3" fill="#000"/>
<rect x="1093" y="826" width="1" height="3" fill="#000"/>
<rect x="1157" y="826" width="1" height="3" fill="#000"/>
<rect x="1221" y="826" width="1" height="3" fill="#000"/>
<rect x="1285" y="826" width="1" height="3" fill="#000"/>
</g>
<text x="1650" y="56" font-size="10.17" fill="#000" stroke="#000" stroke-width="0.18" textLength="33" lengthAdjust="spacingAndGlyphs">1.25485</text>
<text x="1650" y="89" font-size="10.17" fill="#000" stroke="#000" stroke-width="0.18" textLength="33" lengthAdjust="spacingAndGlyphs">1.25310</text>
<text x="1650" y="122" font-size="10.17" fill="#000" stroke="#000" stroke-width="0.18" textLength="33" lengthAdjust="spacingAndGlyphs">1.25135</text>
<text x="1650" y="155" font-size="10.17" fill="#000" stroke="#000" stroke-width="0.18" textLength="33" lengthAdjust="spacingAndGlyphs">1.24960</text>
<text x="1650" y="188" font-size="10.17" fill="#000" stroke="#000" stroke-width="0.18" textLength="33" lengthAdjust="spacingAndGlyphs">1.24780</text>
<text x="1650" y="221" font-size="10.17" fill="#000" stroke="#000" stroke-width="0.18" textLength="33" lengthAdjust="spacingAndGlyphs">1.24605</text>
<text x="1650" y="254" font-size="10.17" fill="#000" stroke="#000" stroke-width="0.18" textLength="33" lengthAdjust="spacingAndGlyphs">1.24430</text>
<text x="1650" y="287" font-size="10.17" fill="#000" stroke="#000" stroke-width="0.18" textLength="33" lengthAdjust="spacingAndGlyphs">1.24255</text>
<text x="1650" y="320" font-size="10.17" fill="#000" stroke="#000" stroke-width="0.18" textLength="33" lengthAdjust="spacingAndGlyphs">1.24080</text>
<text x="1650" y="353" font-size="10.17" fill="#000" stroke="#000" stroke-width="0.18" textLength="33" lengthAdjust="spacingAndGlyphs">1.23905</text>
<text x="1650" y="386" font-size="10.17" fill="#000" stroke="#000" stroke-width="0.18" textLength="33" lengthAdjust="spacingAndGlyphs">1.23730</text>
<text x="1650" y="419" font-size="10.17" fill="#000" stroke="#000" stroke-width="0.18" textLength="33" lengthAdjust="spacingAndGlyphs">1.23550</text>
<text x="1650" y="452" font-size="10.17" fill="#000" stroke="#000" stroke-width="0.18" textLength="33" lengthAdjust="spacingAndGlyphs">1.23375</text>
<text x="1650" y="485" font-size="10.17" fill="#000" stroke="#000" stroke-width="0.18" textLength="33" lengthAdjust="spacingAndGlyphs">1.23200</text>
<text x="1650" y="518" font-size="10.17" fill="#000" stroke="#000" stroke-width="0.18" textLength="33" lengthAdjust="spacingAndGlyphs">1.23025</text>
<text x="1650" y="551" font-size="10.17" fill="#000" stroke="#000" stroke-width="0.18" textLength="33" lengthAdjust="spacingAndGlyphs">1.22850</text>
<text x="1650" y="584" font-size="10.17" fill="#000" stroke="#000" stroke-width="0.18" textLength="33" lengthAdjust="spacingAndGlyphs">1.22675</text>
<g shape-rendering="crispEdges">
<rect x="1646" y="218" width="41" height="11" fill="#ff0000"/>
<rect x="1646" y="248" width="41" height="11" fill="#ff0000"/>
<rect x="1646" y="281" width="41" height="11" fill="#ffa500"/>
<rect x="1646" y="331" width="41" height="11" fill="#0000ff"/>
<rect x="1646" y="361" width="41" height="11" fill="#0000ff"/>
<rect x="1646" y="298" width="41" height="11" fill="#000"/>
</g>
<text x="1650" y="227" font-size="10.17" fill="#fff" stroke="#fff" stroke-width="0.18" textLength="33" lengthAdjust="spacingAndGlyphs">1.24569</text>
<text x="1650" y="257" font-size="10.17" fill="#fff" stroke="#fff" stroke-width="0.18" textLength="33" lengthAdjust="spacingAndGlyphs">1.24409</text>
<text x="1650" y="290" font-size="10.17" fill="#fff" stroke="#fff" stroke-width="0.18" textLength="33" lengthAdjust="spacingAndGlyphs">1.24234</text>
<text x="1650" y="340" font-size="10.17" fill="#fff" stroke="#fff" stroke-width="0.18" textLength="33" lengthAdjust="spacingAndGlyphs">1.23968</text>
<text x="1650" y="370" font-size="10.17" fill="#fff" stroke="#fff" stroke-width="0.18" textLength="33" lengthAdjust="spacingAndGlyphs">1.23808</text>
<text x="1650" y="307" font-size="10.17" fill="#fff" stroke="#fff" stroke-width="0.18" textLength="33" lengthAdjust="spacingAndGlyphs">1.24151</text>
<text x="1648.3" y="596" font-size="10.17" fill="#000" stroke="#000" stroke-width="0.18" textLength="38" lengthAdjust="spacingAndGlyphs">0.004828</text>
<text x="1648.3" y="681" font-size="10.17" fill="#000" stroke="#000" stroke-width="0.18" textLength="17" lengthAdjust="spacingAndGlyphs">0.00</text>
<text x="1648.3" y="697.3" font-size="10.17" fill="#000" stroke="#000" stroke-width="0.18" textLength="40" lengthAdjust="spacingAndGlyphs">-0.001201</text>
<text x="1648" y="713" font-size="10.17" fill="#000" stroke="#000" stroke-width="0.18" textLength="14" lengthAdjust="spacingAndGlyphs">100</text>
<text x="1647.9" y="732" font-size="10.17" fill="#000" stroke="#000" stroke-width="0.18" textLength="9" lengthAdjust="spacingAndGlyphs">80</text>
<text x="1647.9" y="768" font-size="10.17" fill="#000" stroke="#000" stroke-width="0.18" textLength="9" lengthAdjust="spacingAndGlyphs">50</text>
<text x="1647.9" y="810" font-size="10.17" fill="#000" stroke="#000" stroke-width="0.18" textLength="9" lengthAdjust="spacingAndGlyphs">15</text>
<text x="1647.9" y="822" font-size="10.17" fill="#000" stroke="#000" stroke-width="0.18" textLength="4.5" lengthAdjust="spacingAndGlyphs">0</text>
<text x="20" y="41" font-size="10.17" fill="#000" stroke="#000" stroke-width="0.18" textLength="57.2" lengthAdjust="spacingAndGlyphs">GBPUSD-,H4</text>
<text x="82.4" y="41" font-size="10.17" fill="#000" stroke="#000" stroke-width="0.18" textLength="141.4" lengthAdjust="spacingAndGlyphs">1.24152 1.24251 1.23987 1.24151</text>
<text x="9.5" y="598" font-size="10.17" fill="#000" stroke="#000" stroke-width="0.18" textLength="147.5" lengthAdjust="spacingAndGlyphs">MACD(12,26,9) 0.001049 0.002265</text>
<text x="9.5" y="715" font-size="10.17" fill="#000" stroke="#000" stroke-width="0.18" textLength="67.5" lengthAdjust="spacingAndGlyphs">RSI(14) 39.9276</text>
<text x="4" y="838" font-size="10.17" fill="#000" stroke="#000" stroke-width="0.18" textLength="52" lengthAdjust="spacingAndGlyphs">28 Mar 2023</text>
<text x="68" y="838" font-size="10.17" fill="#000" stroke="#000" stroke-width="0.18" textLength="54.6" lengthAdjust="spacingAndGlyphs">29 Mar 00:00</text>
<text x="132" y="838" font-size="10.17" fill="#000" stroke="#000" stroke-width="0.18" textLength="54.6" lengthAdjust="spacingAndGlyphs">29 Mar 16:00</text>
<text x="196" y="838" font-size="10.17" fill="#000" stroke="#000" stroke-width="0.18" textLength="54.6" lengthAdjust="spacingAndGlyphs">30 Mar 08:00</text>
<text x="260" y="838" font-size="10.17" fill="#000" stroke="#000" stroke-width="0.18" textLength="54.6" lengthAdjust="spacingAndGlyphs">31 Mar 00:00</text>
<text x="324" y="838" font-size="10.17" fill="#000" stroke="#000" stroke-width="0.18" textLength="54.6" lengthAdjust="spacingAndGlyphs">31 Mar 16:00</text>
<text x="388" y="838" font-size="10.17" fill="#000" stroke="#000" stroke-width="0.18" textLength="48.0" lengthAdjust="spacingAndGlyphs">3 Apr 08:00</text>
<text x="452" y="838" font-size="10.17" fill="#000" stroke="#000" stroke-width="0.18" textLength="48.0" lengthAdjust="spacingAndGlyphs">4 Apr 00:00</text>
<text x="516" y="838" font-size="10.17" fill="#000" stroke="#000" stroke-width="0.18" textLength="48.0" lengthAdjust="spacingAndGlyphs">4 Apr 16:00</text>
<text x="580" y="838" font-size="10.17" fill="#000" stroke="#000" stroke-width="0.18" textLength="48.0" lengthAdjust="spacingAndGlyphs">5 Apr 08:00</text>
<text x="644" y="838" font-size="10.17" fill="#000" stroke="#000" stroke-width="0.18" textLength="48.0" lengthAdjust="spacingAndGlyphs">6 Apr 00:00</text>
<text x="708" y="838" font-size="10.17" fill="#000" stroke="#000" stroke-width="0.18" textLength="48.0" lengthAdjust="spacingAndGlyphs">6 Apr 16:00</text>
<text x="772" y="838" font-size="10.17" fill="#000" stroke="#000" stroke-width="0.18" textLength="48.0" lengthAdjust="spacingAndGlyphs">7 Apr 08:00</text>
<text x="836" y="838" font-size="10.17" fill="#000" stroke="#000" stroke-width="0.18" textLength="53.2" lengthAdjust="spacingAndGlyphs">10 Apr 00:00</text>
<text x="900" y="838" font-size="10.17" fill="#000" stroke="#000" stroke-width="0.18" textLength="53.2" lengthAdjust="spacingAndGlyphs">10 Apr 16:00</text>
<text x="964" y="838" font-size="10.17" fill="#000" stroke="#000" stroke-width="0.18" textLength="52.5" lengthAdjust="spacingAndGlyphs">11 Apr 08:00</text>
<text x="1028" y="838" font-size="10.17" fill="#000" stroke="#000" stroke-width="0.18" textLength="53.2" lengthAdjust="spacingAndGlyphs">12 Apr 00:00</text>
<text x="1092" y="838" font-size="10.17" fill="#000" stroke="#000" stroke-width="0.18" textLength="53.2" lengthAdjust="spacingAndGlyphs">12 Apr 16:00</text>
<text x="1156" y="838" font-size="10.17" fill="#000" stroke="#000" stroke-width="0.18" textLength="53.2" lengthAdjust="spacingAndGlyphs">13 Apr 08:00</text>
<text x="1220" y="838" font-size="10.17" fill="#000" stroke="#000" stroke-width="0.18" textLength="53.2" lengthAdjust="spacingAndGlyphs">14 Apr 00:00</text>
<text x="1284" y="838" font-size="10.17" fill="#000" stroke="#000" stroke-width="0.18" textLength="53.2" lengthAdjust="spacingAndGlyphs">14 Apr 16:00</text>
</svg>
</body></html>
